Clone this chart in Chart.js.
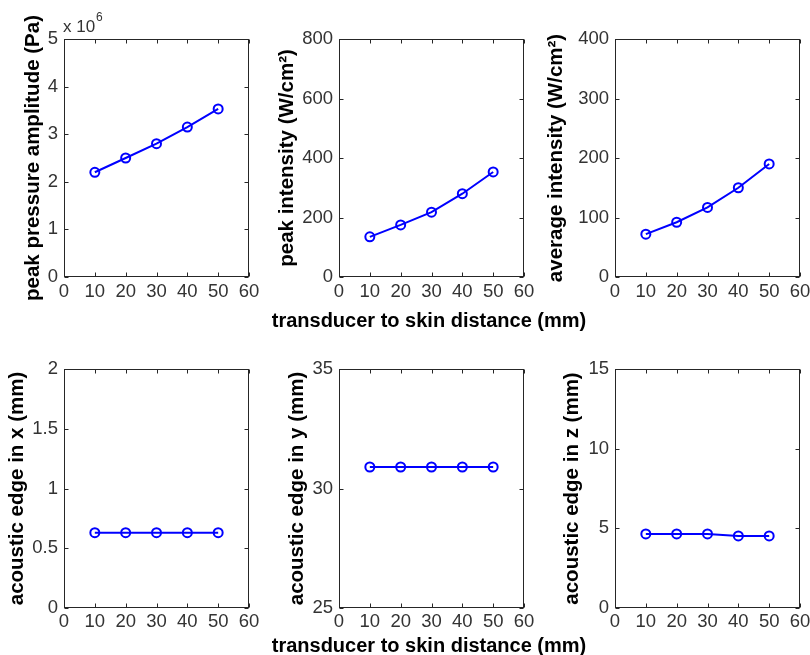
<!DOCTYPE html>
<html><head><meta charset="utf-8">
<script src="https://cdn.jsdelivr.net/npm/chart.js@4"></script>
<style>
html,body{margin:0;padding:0;width:810px;height:655px;overflow:hidden;background:#fff;}
canvas{position:absolute;}
</style></head><body>
<script>
// ---- data ----
const distance = [10, 20, 30, 40, 50];               // transducer to skin distance (mm)
const peakPressure = [2.20e6, 2.50e6, 2.80e6, 3.15e6, 3.53e6]; // Pa
const peakIntensity = [135, 175, 218, 280, 353];     // W/cm^2
const avgIntensity = [72, 92, 117, 150, 190];        // W/cm^2
const edgeX = [0.63, 0.63, 0.63, 0.63, 0.63];        // mm
const edgeY = [30.9, 30.9, 30.9, 30.9, 30.9];        // mm
const edgeZ = [4.65, 4.65, 4.65, 4.52, 4.52];        // mm
const xTickRange = [0, 60, 10];
const yTitles = ['peak pressure amplitude (Pa)', 'peak intensity (W/cm\u00B2)', 'average intensity (W/cm\u00B2)',
                 'acoustic edge in x (mm)', 'acoustic edge in y (mm)', 'acoustic edge in z (mm)'];
const yRanges = [[0, 5e6, 1e6], [0, 800, 200], [0, 400, 100], [0, 2, 0.5], [25, 35, 5], [0, 15, 5]];
const xTitle = 'transducer to skin distance (mm)';
const series = [peakPressure, peakIntensity, avgIntensity, edgeX, edgeY, edgeZ];

// ---- layout / style ----
const FONT = '"Liberation Sans", Arial, Helvetica, sans-serif';
const TICK_FONT = {family: FONT, size: 18.5};
const TITLE_FONT = {family: FONT, size: 20.5, weight: 'bold'};
const TICK_COLOR = '#333';
const AXIS_COLOR = '#262626';
const cols = [{cx: 0, cw: 280, l: 64, r: 249}, {cx: 262, cw: 340, l: 339, r: 524}, {cx: 540, cw: 290, l: 615, r: 800}];
const rows = [{cy: 0, ch: 335, t: 39, b: 277, xPad: 4, titleBase: 327}, {cy: 335, ch: 335, t: 369, b: 608, xPad: 3, titleBase: 652}];
const titlePads = [21, 13, 4, 5, 23, 20];

const boxPlugin = {
  id: 'box',
  afterDraw(chart) {
    const {ctx, chartArea: a, scales: {x, y}} = chart;
    const TL = 4;
    ctx.save();
    ctx.strokeStyle = AXIS_COLOR; ctx.lineWidth = 1;
    const L = Math.round(a.left) + 0.5, R = Math.round(a.right) - 0.5, T = Math.round(a.top) + 0.5, B = Math.round(a.bottom) - 0.5;
    ctx.strokeRect(L, T, R - L, B - T);
    ctx.beginPath();
    x.ticks.forEach(t => {
      const p = Math.round(x.getPixelForValue(t.value)) + 0.5;
      ctx.moveTo(p, B); ctx.lineTo(p, B - TL); ctx.moveTo(p, T); ctx.lineTo(p, T + TL);
    });
    y.ticks.forEach(t => {
      const p = Math.round(y.getPixelForValue(t.value)) + 0.5;
      ctx.moveTo(L, p); ctx.lineTo(L + TL, p); ctx.moveTo(R, p); ctx.lineTo(R - TL, p);
    });
    ctx.stroke();
    const texts = chart.options.plugins.box.texts || [];
    texts.forEach(tx => {
      ctx.font = tx.font; ctx.fillStyle = tx.color; ctx.textAlign = tx.align; ctx.textBaseline = 'alphabetic';
      ctx.fillText(tx.text, tx.x, tx.y);
    });
    ctx.restore();
  }
};

for (let i = 0; i < 6; i++) {
  const col = cols[i % 3], row = rows[Math.floor(i / 3)];
  const cv = document.createElement('canvas');
  cv.width = col.cw; cv.height = row.ch;
  cv.style.left = col.cx + 'px'; cv.style.top = row.cy + 'px';
  document.body.appendChild(cv);
  const [ymin, ymax, ystep] = yRanges[i];
  const texts = [];
  if (i === 0) {
    texts.push({text: 'x 10', x: 63 - col.cx, y: 32 - row.cy, font: '17px ' + FONT, color: '#333', align: 'left'});
    texts.push({text: '6', x: 96 - col.cx, y: 21 - row.cy, font: '12px ' + FONT, color: '#333', align: 'left'});
  }
  if (i % 3 === 1) {
    texts.push({text: xTitle, x: 429 - col.cx, y: row.titleBase - row.cy, font: 'bold 20px ' + FONT, color: '#000', align: 'center'});
  }
  const yAxisW = col.l - col.cx, xAxisH = row.cy + row.ch - row.b;
  new Chart(cv, {
    type: 'line',
    data: {datasets: [{
      data: distance.map((d, k) => ({x: d, y: series[i][k]})),
      borderColor: '#0000ff', borderWidth: 2, tension: 0,
      pointRadius: 4.5, pointBorderWidth: 2, pointBorderColor: '#0000ff', pointBackgroundColor: 'rgba(0,0,0,0)'
    }]},
    options: {
      responsive: false, animation: false, devicePixelRatio: 1,
      layout: {padding: {left: 0, top: row.t - row.cy, right: col.cx + col.cw - col.r, bottom: 0}},
      plugins: {legend: {display: false}, tooltip: {enabled: false}, box: {texts}},
      scales: {
        x: {type: 'linear', min: xTickRange[0], max: xTickRange[1],
            ticks: {stepSize: xTickRange[2], padding: row.xPad, font: TICK_FONT, color: TICK_COLOR, maxRotation: 0, autoSkip: false},
            grid: {display: false, drawTicks: false}, border: {display: false},
            afterFit(s) { s.height = xAxisH; }},
        y: {type: 'linear', min: ymin, max: ymax,
            ticks: {stepSize: ystep, padding: 6, font: TICK_FONT, color: TICK_COLOR, autoSkip: false,
                    callback: v => i === 0 ? String(v / 1e6) : String(v)},
            grid: {display: false, drawTicks: false}, border: {display: false},
            title: {display: true, text: yTitles[i], font: TITLE_FONT, color: '#000', padding: {top: titlePads[i], bottom: 0}},
            afterFit(s) { s.width = yAxisW; }}
      }
    },
    plugins: [boxPlugin]
  });
}
</script>
</body></html>
